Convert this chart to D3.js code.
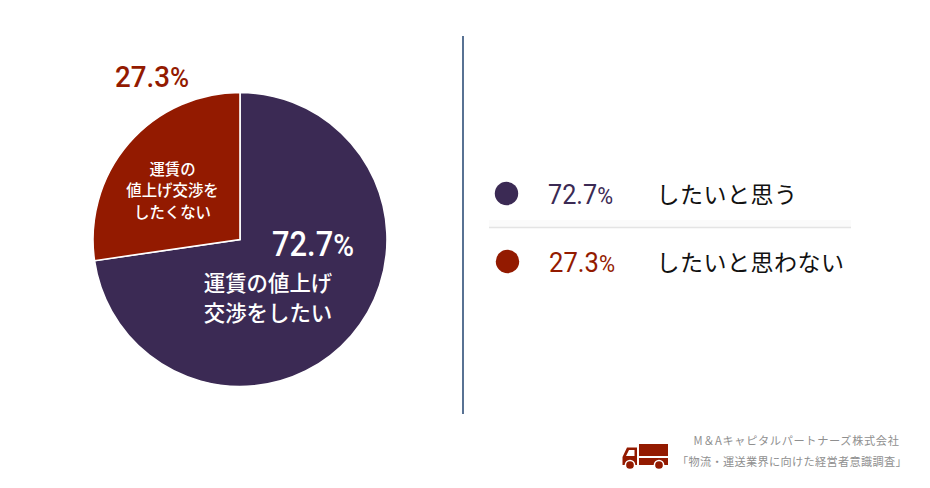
<!DOCTYPE html>
<html><head><meta charset="utf-8">
<script src="https://cdn.jsdelivr.net/npm/d3@7/dist/d3.min.js"></script>
<style>html,body{margin:0;padding:0;background:#fff}svg{display:block}text{font-family:"Noto Sans CJK JP","Noto Sans",sans-serif}.num{font-family:Roboto,sans-serif}</style>
</head><body><svg id="c" width="930" height="488"></svg>
<script>
const categories = ["したいと思う", "したいと思わない"];
const values = [72.7, 27.3];
const colors = ["#3b2a54", "#931a00"];
const pieLabels = [["運賃の値上げ", "交渉をしたい"], ["運賃の", "値上げ交渉を", "したくない"]];
const sourceLines = ["M＆Aキャピタルパートナーズ株式会社", "「物流・運送業界に向けた経営者意識調査」"];

const svg = d3.select("#c");
const fmt = v => v.toFixed(1);

// pie
const cx = 240, cy = 239.5, R = 147;
const arcs = d3.pie().sort(null).value(d => d)(values);
const arc = d3.arc().innerRadius(0).outerRadius(R);
svg.append("g").attr("transform", `translate(${cx},${cy})`)
  .selectAll("path").data(arcs).join("path")
  .attr("d", arc).attr("fill", (d, i) => colors[i])
  .attr("stroke", "#fff").attr("stroke-width", 1.6);

// condensed percentage text: squeezed horizontally to the reference's narrow numerals
function pct(parent, x, y, v, size, fill, psize, width, weight) {
  const t = parent.append("text").attr("class", "num")
    .attr("fill", fill).attr("font-size", size).attr("font-weight", weight);
  t.append("tspan").text(fmt(v));
  t.append("tspan").attr("font-size", psize).text("%");
  const sx = width / t.node().getComputedTextLength();
  t.attr("transform", `translate(${x},${y}) scale(${sx},1)`);
}
pct(svg, 115, 87, values[1], 30, colors[1], 28, 74, 500);
pct(svg, 272, 256, values[0], 35, "#fff", 32, 82, 500);

pieLabels[0].forEach((s, i) => svg.append("text").attr("x", 268).attr("y", 290.5 + i * 30)
  .attr("text-anchor", "middle").attr("fill", "#fff").attr("font-size", 21.4).attr("font-weight", 500).text(s));
pieLabels[1].forEach((s, i) => svg.append("text").attr("x", 172.5).attr("y", 174.5 + i * 21.7)
  .attr("text-anchor", "middle").attr("fill", "#fff").attr("font-size", 15.4).attr("font-weight", 500).text(s));

// divider
svg.append("line").attr("x1", 463).attr("x2", 463).attr("y1", 36).attr("y2", 414)
  .attr("stroke", "#2f4f78").attr("stroke-width", 1.6);

// legend
const rowY = d3.scalePoint().domain(categories).range([194, 262]);
const leg = svg.append("g");
leg.append("rect").attr("x", 489).attr("y", 220).attr("width", 362).attr("height", 7).attr("fill", "#fbfbfb");
categories.forEach((c, i) => {
  const y = rowY(c);
  leg.append("circle").attr("cx", i ? 507.5 : 506.5).attr("cy", y - 0.5).attr("r", 11.7).attr("fill", colors[i]);
  pct(leg, i ? 549 : 548, y + 10, values[i], 28, colors[i], 24, i ? 66 : 65, 400);
  leg.append("text").attr("x", 656.5).attr("y", y + 9).attr("fill", "#111").attr("font-size", 23)
    .attr("letter-spacing", 0.5).text(c);
});
leg.append("line").attr("x1", 489).attr("x2", 851).attr("y1", 227.5).attr("y2", 227.5)
  .attr("stroke", "#e4e4e4").attr("stroke-width", 1.4);

// truck icon
const truck = svg.append("g").attr("fill", colors[1]);
truck.append("rect").attr("x", 639).attr("y", 444).attr("width", 29).attr("height", 12);
truck.append("rect").attr("x", 639).attr("y", 458).attr("width", 29).attr("height", 7);
truck.append("path").attr("fill-rule", "evenodd")
  .attr("d", "M622.5 465V457L627 447.5H637V465Z M629 450L626 456H634.5V450Z");
[[630, 465], [659, 465]].forEach(p => {
  truck.append("circle").attr("cx", p[0]).attr("cy", p[1]).attr("r", 4.6).attr("stroke", "#fff").attr("stroke-width", 1.5);
});

// source
sourceLines.forEach((s, i) => svg.append("text").attr("x", i ? 792 : 796.5).attr("y", [445, 466][i])
  .attr("text-anchor", "middle").attr("fill", "#8f8f8f").attr("font-size", 11.2)
  .attr("letter-spacing", i ? 0.32 : 0.65).text(s));
</script></body></html>
